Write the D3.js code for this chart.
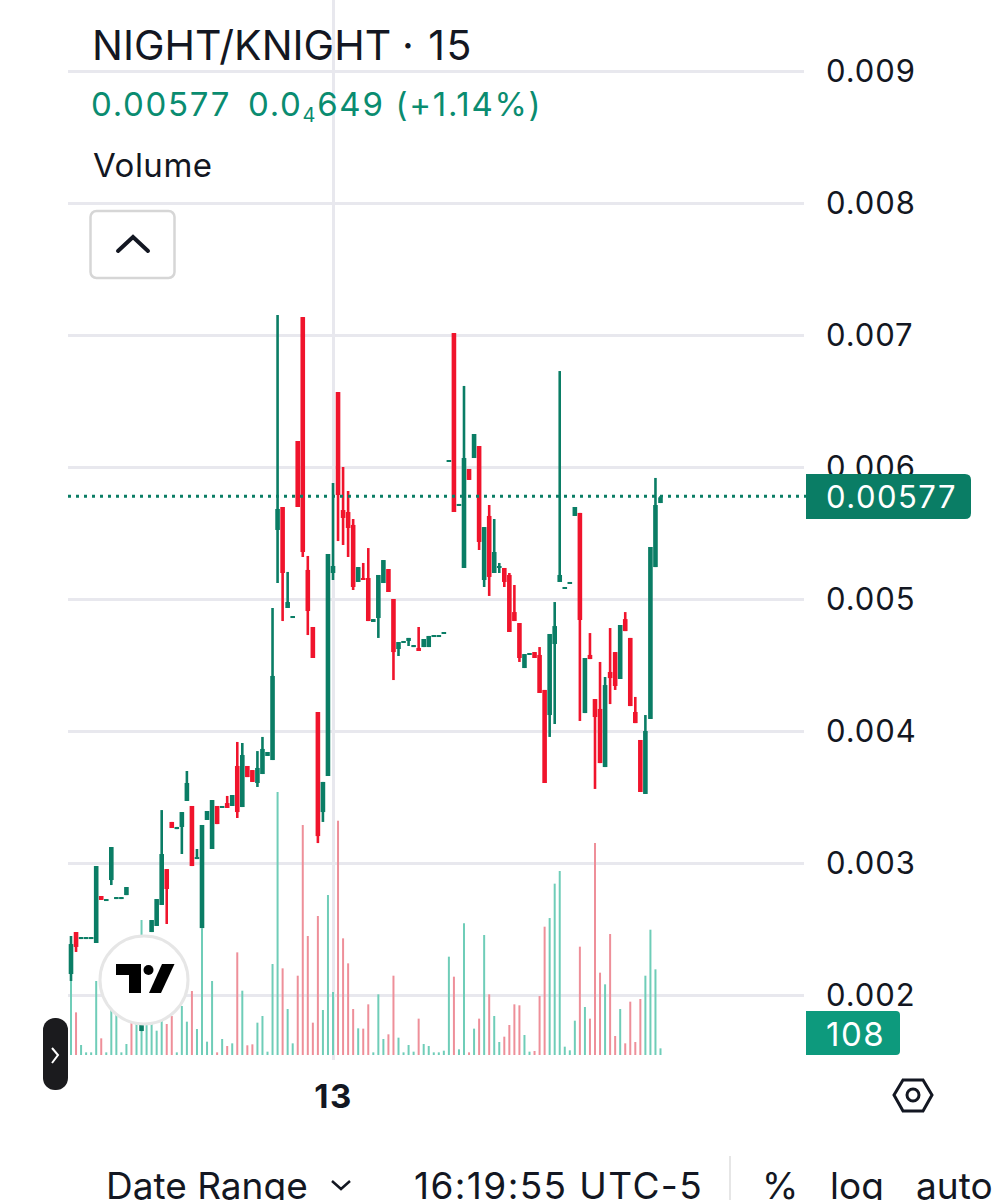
<!DOCTYPE html>
<html>
<head>
<meta charset="utf-8">
<title>NIGHT/KNIGHT</title>
<script src="https://cdn.jsdelivr.net/npm/d3@7"></script>
<style>
  html, body { margin: 0; padding: 0; background: #fff; overflow: hidden; }
  svg { display: block; }
  text { font-family: Inter, "Noto Sans", sans-serif; fill: #131722; }
  .axis .domain { display: none; }
  .grid line { stroke: #e8e8ee; stroke-width: 3; }
  .grid text { display: none; }
  .price-axis text { font-size: 31px; letter-spacing: 0.9px; }
  .time-axis text { font-size: 33px; font-weight: 700; letter-spacing: 1.5px; }
</style>
</head>
<body>
<div id="chart"></div>
<script>
// prices are in units of 0.00001
const opens = [215.9,247.7,242.4,242.4,242.4,239.4,275,271.2,287.1,272.7,272.7,275.7,237.9,184.8,172.7,181,247.7,252.3,268.2,295.4,
  331.1,325.7,327.3,347,343.2,303,250.7,332.6,310.6,343.2,342.4,345.4,343.2,373.5,342.4,373.5,370.4,360.6,367.4,381.1,
  378,552.3,569.7,493.2,485.6,619.7,713.6,522,478.8,414.4,338.6,365.9,519.7,656.8,567.4,565.9,556.1,512.9,515.9,515.9,
  482.6,485.6,512.1,522.7,500,462.1,466.7,468.2,463.6,462.9,463.6,463.6,471.2,471.2,473.5,603.8,701.5,570.5,523.5,598.5,
  606.8,615.9,514.4,562.9,519.7,523.5,523.5,518.2,490.1,481.8,447.7,457.6,459.8,457.6,431.1,412.1,465.9,512.9,507.6,512.1,
  562.9,565.2,413.6,457.6,424.2,416.7,372.7,444.7,459.8,439.4,484.8,470.5,414.4,393.2,352.3,409.1,524.2,572.7];
const highs = [244.7,247.7,243.9,243.9,243.9,297.7,275,272.7,312.1,274.2,274.2,281.8,237.9,226.5,178.8,237.9,256.8,272.7,340.1,295.4,
  331.1,327.3,338.6,369.7,343.2,310.6,328.8,339.4,347.7,343.2,343.2,350.8,351.5,391.7,390.9,373.5,370.4,384.8,395.5,384.1,
  493.2,715.2,569.7,520.5,487.1,619.7,713.6,532.6,478.8,414.4,361.4,534.1,587.9,656.8,600,581.8,560.6,524.2,527.3,538.6,
  484.8,518.2,529.5,522.7,500,467.4,468.2,470.5,465.1,478.8,469.7,472,472.7,472.7,475,605.3,701.5,572,661.4,598.5,
  625,615.9,554.5,571.2,560.6,527.3,523.5,519.7,510.6,481.8,458.3,459.1,459.8,463.6,431.1,473.5,497.7,672.7,509.1,512.9,
  569.7,565.2,455.3,474.2,424.2,452.3,440.9,478,459.8,480.3,490.1,470.5,425.8,393.2,412.1,539.4,591.7,578];
const lows = [210.6,232.6,242.4,242.4,242.4,239.4,272,271.2,283.3,272.7,272.7,275.7,196.2,184.8,172.7,181,247.7,252.3,268.2,253.8,
  326.5,325.7,306.8,347,297.7,303,250.7,332.6,310.6,329.5,342.4,341.7,343.2,334.1,342.4,365.1,361.4,357.6,367.4,381.1,
  378,512.1,483.3,493.2,485.6,569.7,531.8,472.7,455.3,315.1,331.1,365.9,514.4,543.9,540.9,531.8,506.8,512.9,514.4,483.3,
  482.6,470.5,512.1,505.3,438.6,456.8,466.7,464.4,463.6,460.6,463.6,463.6,471.2,471.2,473.5,603.8,565.9,570.5,523.5,590.2,
  606.8,537.1,509.1,502.3,519.7,519.7,509.1,475,483.3,452.3,447.7,457.6,455.3,428.8,360.6,395.5,405.3,512.9,507.6,512.1,
  562.9,407.6,413.6,454.5,356.1,375.7,372.7,420.4,431.1,439.4,475.7,418.9,406,353.8,352.3,409.1,524.2,572.7];
const closes = [238.6,236.4,243.9,243.9,243.9,297.7,272,272.7,312.1,274.2,274.2,281.8,196.2,226.5,178.8,237.9,256.8,272.7,306.8,280.3,
  326.5,327.3,338.6,360.6,297.7,304.5,328.8,339.4,347.7,329.5,343.2,341.7,351.5,338.6,381.8,365.1,361.4,372,386.4,384.1,
  441.7,568.2,519.7,497.7,487.1,569.7,535.6,490.9,455.3,320.4,361.4,534.1,525,578.8,561.4,553.8,509.1,524.2,514.4,483.3,
  484.8,518.2,529.5,505.3,459.8,467.4,468.2,470.5,465.1,460.6,469.7,472,472.7,472.7,475,605.3,565.9,572,606.8,590.2,
  625,543.2,554.5,516.7,535.6,525,512.9,475,483.3,455.3,458.3,459.1,455.3,428.8,360.6,473.5,479.5,518.2,509.1,512.9,
  569.7,484.1,455.3,454.5,410.6,375.7,434.8,440.1,434.1,480.3,475.7,418.9,406,353.8,400,539.4,571.2,577];
const volumes = [1199,691,162,43,43,1199,270,43,729,648,43,178,540,513,2187,513,513,394,556,502,
  632,43,794,540,1037,421,2052,216,1199,43,259,146,189,1663,1042,157,173,524,632,54,
  1474,4261,1404,745,189,1285,3726,1928,524,2252,729,2592,1021,3796,1890,1485,745,432,427,821,
  43,983,259,335,1285,281,43,162,54,589,178,146,43,43,70,1593,1269,92,2133,43,
  427,589,1944,983,632,211,297,486,821,805,324,54,65,956,2079,2219,2776,2981,135,76,
  556,1755,778,589,3434,1334,1145,1960,308,745,189,864,211,907,1285,2030,1388,108];

const priceUnit = 1e-5;
const priceTicks = [900, 800, 700, 600, 500, 400, 300, 200];
const lastPrice = 577;
const lastVolume = 108;
const dayTickIndex = [52];
const dayTickLabels = ["13"];
const bottomLabels = ["Date Range", "16:19:55 UTC-5", "%", "log", "auto"];

const W = 1000, H = 1200;
const upColor = "#0a7d65", downColor = "#f0142c";
const volUp = "#6fcdb8", volDown = "#ee8f99";

const svg = d3.select("#chart").append("svg").attr("width", W).attr("height", H);

const x = d3.scaleLinear().domain([0, opens.length - 1]).range([71, 660.5]);
const y = d3.scaleLinear().domain([200, 900]).range([995, 71]);
const yVol = d3.scaleLinear().domain([0, 4261]).range([1055, 792]);

// grid
svg.append("g")
  .attr("class", "grid axis")
  .attr("transform", "translate(804,0)")
  .call(d3.axisLeft(y).tickValues(priceTicks).tickSize(736));

svg.append("g")
  .attr("class", "grid axis")
  .attr("transform", "translate(0,1060)")
  .call(d3.axisTop(x).tickValues(dayTickIndex).tickSize(1060));

// volume
const idx = d3.range(opens.length);
const isUp = i => closes[i] >= opens[i];

svg.append("g").selectAll("line").data(idx).join("line")
  .attr("x1", i => x(i)).attr("x2", i => x(i))
  .attr("y1", yVol(0))
  .attr("y2", i => yVol(volumes[i]))
  .attr("stroke", i => isUp(i) ? volUp : volDown)
  .attr("stroke-width", 2);

// candles
const candles = svg.append("g");
candles.selectAll("line").data(idx).join("line")
  .attr("x1", i => x(i)).attr("x2", i => x(i))
  .attr("y1", i => y(highs[i]))
  .attr("y2", i => y(lows[i]))
  .attr("stroke", i => isUp(i) ? upColor : downColor)
  .attr("stroke-width", 2.6);
candles.selectAll("rect").data(idx).join("rect")
  .attr("x", i => x(i) - 2.3)
  .attr("width", 4.6)
  .attr("y", i => y(Math.max(opens[i], closes[i])))
  .attr("height", i => Math.max(2, Math.abs(y(opens[i]) - y(closes[i]))))
  .attr("fill", i => isUp(i) ? upColor : downColor);

// last price line
svg.append("line")
  .attr("x1", 68).attr("x2", 806)
  .attr("y1", y(lastPrice) - 1).attr("y2", y(lastPrice) - 1)
  .attr("stroke", upColor)
  .attr("stroke-width", 3)
  .attr("stroke-dasharray", "3 5");

// price axis
svg.append("g")
  .attr("class", "axis price-axis")
  .attr("transform", "translate(826,1)")
  .call(d3.axisRight(y).tickValues(priceTicks).tickSize(0).tickPadding(0)
    .tickFormat(d => d3.format(".3f")(d * priceUnit)));

// time axis
svg.append("g")
  .attr("class", "axis time-axis")
  .attr("transform", "translate(0,1085)")
  .call(d3.axisBottom(x).tickValues(dayTickIndex).tickSize(0).tickPadding(0)
    .tickFormat((d, i) => dayTickLabels[i]));

// price + volume labels
function tagPath(x0, y0, x1, y1, r) {
  return "M" + x0 + "," + y0 + "H" + (x1 - r) + "Q" + x1 + "," + y0 + " " + x1 + "," + (y0 + r) +
    "V" + (y1 - r) + "Q" + x1 + "," + y1 + " " + (x1 - r) + "," + y1 + "H" + x0 + "Z";
}
svg.append("path").attr("d", tagPath(806, 474, 971, 519, 6)).attr("fill", upColor);
svg.append("text").attr("x", 826).attr("y", 508).style("fill", "#fff").style("font-size", "31px")
  .style("letter-spacing", "1.5px")
  .text(d3.format(".5f")(lastPrice * priceUnit));
svg.append("path").attr("d", tagPath(806, 1011, 900, 1055, 4)).attr("fill", "#0d9a7d");
svg.append("text").attr("x", 826).attr("y", 1046).style("fill", "#fff").style("font-size", "33px")
  .style("letter-spacing", "1.5px")
  .text(lastVolume);

// logo
svg.append("circle").attr("cx", 144).attr("cy", 980).attr("r", 44)
  .attr("fill", "#fff").attr("stroke", "#e6e6e6").attr("stroke-width", 3);
svg.append("path").attr("d", "M116,964H141V993H129V975H116Z").attr("fill", "#000");
svg.append("circle").attr("cx", 148.5).attr("cy", 970).attr("r", 5).attr("fill", "#000");
svg.append("path").attr("d", "M162,964H174.5L161,993H149Z").attr("fill", "#000");

// legend
const title = svg.append("text").attr("x", 92).attr("y", 60).style("font-size", "41px");
title.append("tspan").text("NIGHT/KNIGHT");
title.append("tspan").attr("x", 402).style("letter-spacing", "1.5px").text("· 15");
const legend = svg.append("text").attr("x", 91).attr("y", 116).style("font-size", "33px")
  .style("fill", "#0a8c70").style("letter-spacing", "1.7px");
legend.append("tspan").text("0.00577");
legend.append("tspan").attr("x", 248).text("0.0");
legend.append("tspan").attr("dy", 6).style("font-size", "20px").text("4");
legend.append("tspan").attr("dy", -6).text("649 (+1.14%)");
svg.append("text").attr("x", 93).attr("y", 177).style("font-size", "33px").style("letter-spacing", "0.5px").text("Volume");

// collapse button
svg.append("rect").attr("x", 90.5).attr("y", 211).attr("width", 84).attr("height", 67).attr("rx", 6)
  .attr("fill", "#fff").attr("stroke", "#d6d6d6").attr("stroke-width", 2.5);
svg.append("path").attr("d", "M118,251L133,237L148,251").attr("fill", "none")
  .attr("stroke", "#131722").attr("stroke-width", 4).attr("stroke-linecap", "round");

// side handle
svg.append("rect").attr("x", 43).attr("y", 1018).attr("width", 25).attr("height", 72).attr("rx", 12)
  .attr("fill", "#1b1b1e");
svg.append("path").attr("d", "M52,1048L58,1055L52,1063").attr("fill", "none")
  .attr("stroke", "#fff").attr("stroke-width", 2);

// settings hexagon
svg.append("path").attr("d", "M894,1095L903,1080H923L932,1095L923,1111H903Z").attr("fill", "none")
  .attr("stroke", "#131722").attr("stroke-width", 3);
svg.append("circle").attr("cx", 913).attr("cy", 1095).attr("r", 6).attr("fill", "none")
  .attr("stroke", "#131722").attr("stroke-width", 3);

// bottom bar
const bottomX = [106, 414, 762, 830, 916];
const bottomSpacing = [0, 1.4, 0, 0, 0];
svg.append("g").selectAll("text").data(bottomLabels).join("text")
  .attr("x", (d, i) => bottomX[i]).attr("y", 1199).style("font-size", "37px")
  .style("letter-spacing", (d, i) => bottomSpacing[i] + "px")
  .text(d => d);
svg.append("path").attr("d", "M332,1181L341,1189L350,1181").attr("fill", "none")
  .attr("stroke", "#131722").attr("stroke-width", 2.5);
svg.append("line").attr("x1", 730).attr("x2", 730).attr("y1", 1156).attr("y2", 1200)
  .attr("stroke", "#e6e6e6").attr("stroke-width", 2);
</script>
</body>
</html>
